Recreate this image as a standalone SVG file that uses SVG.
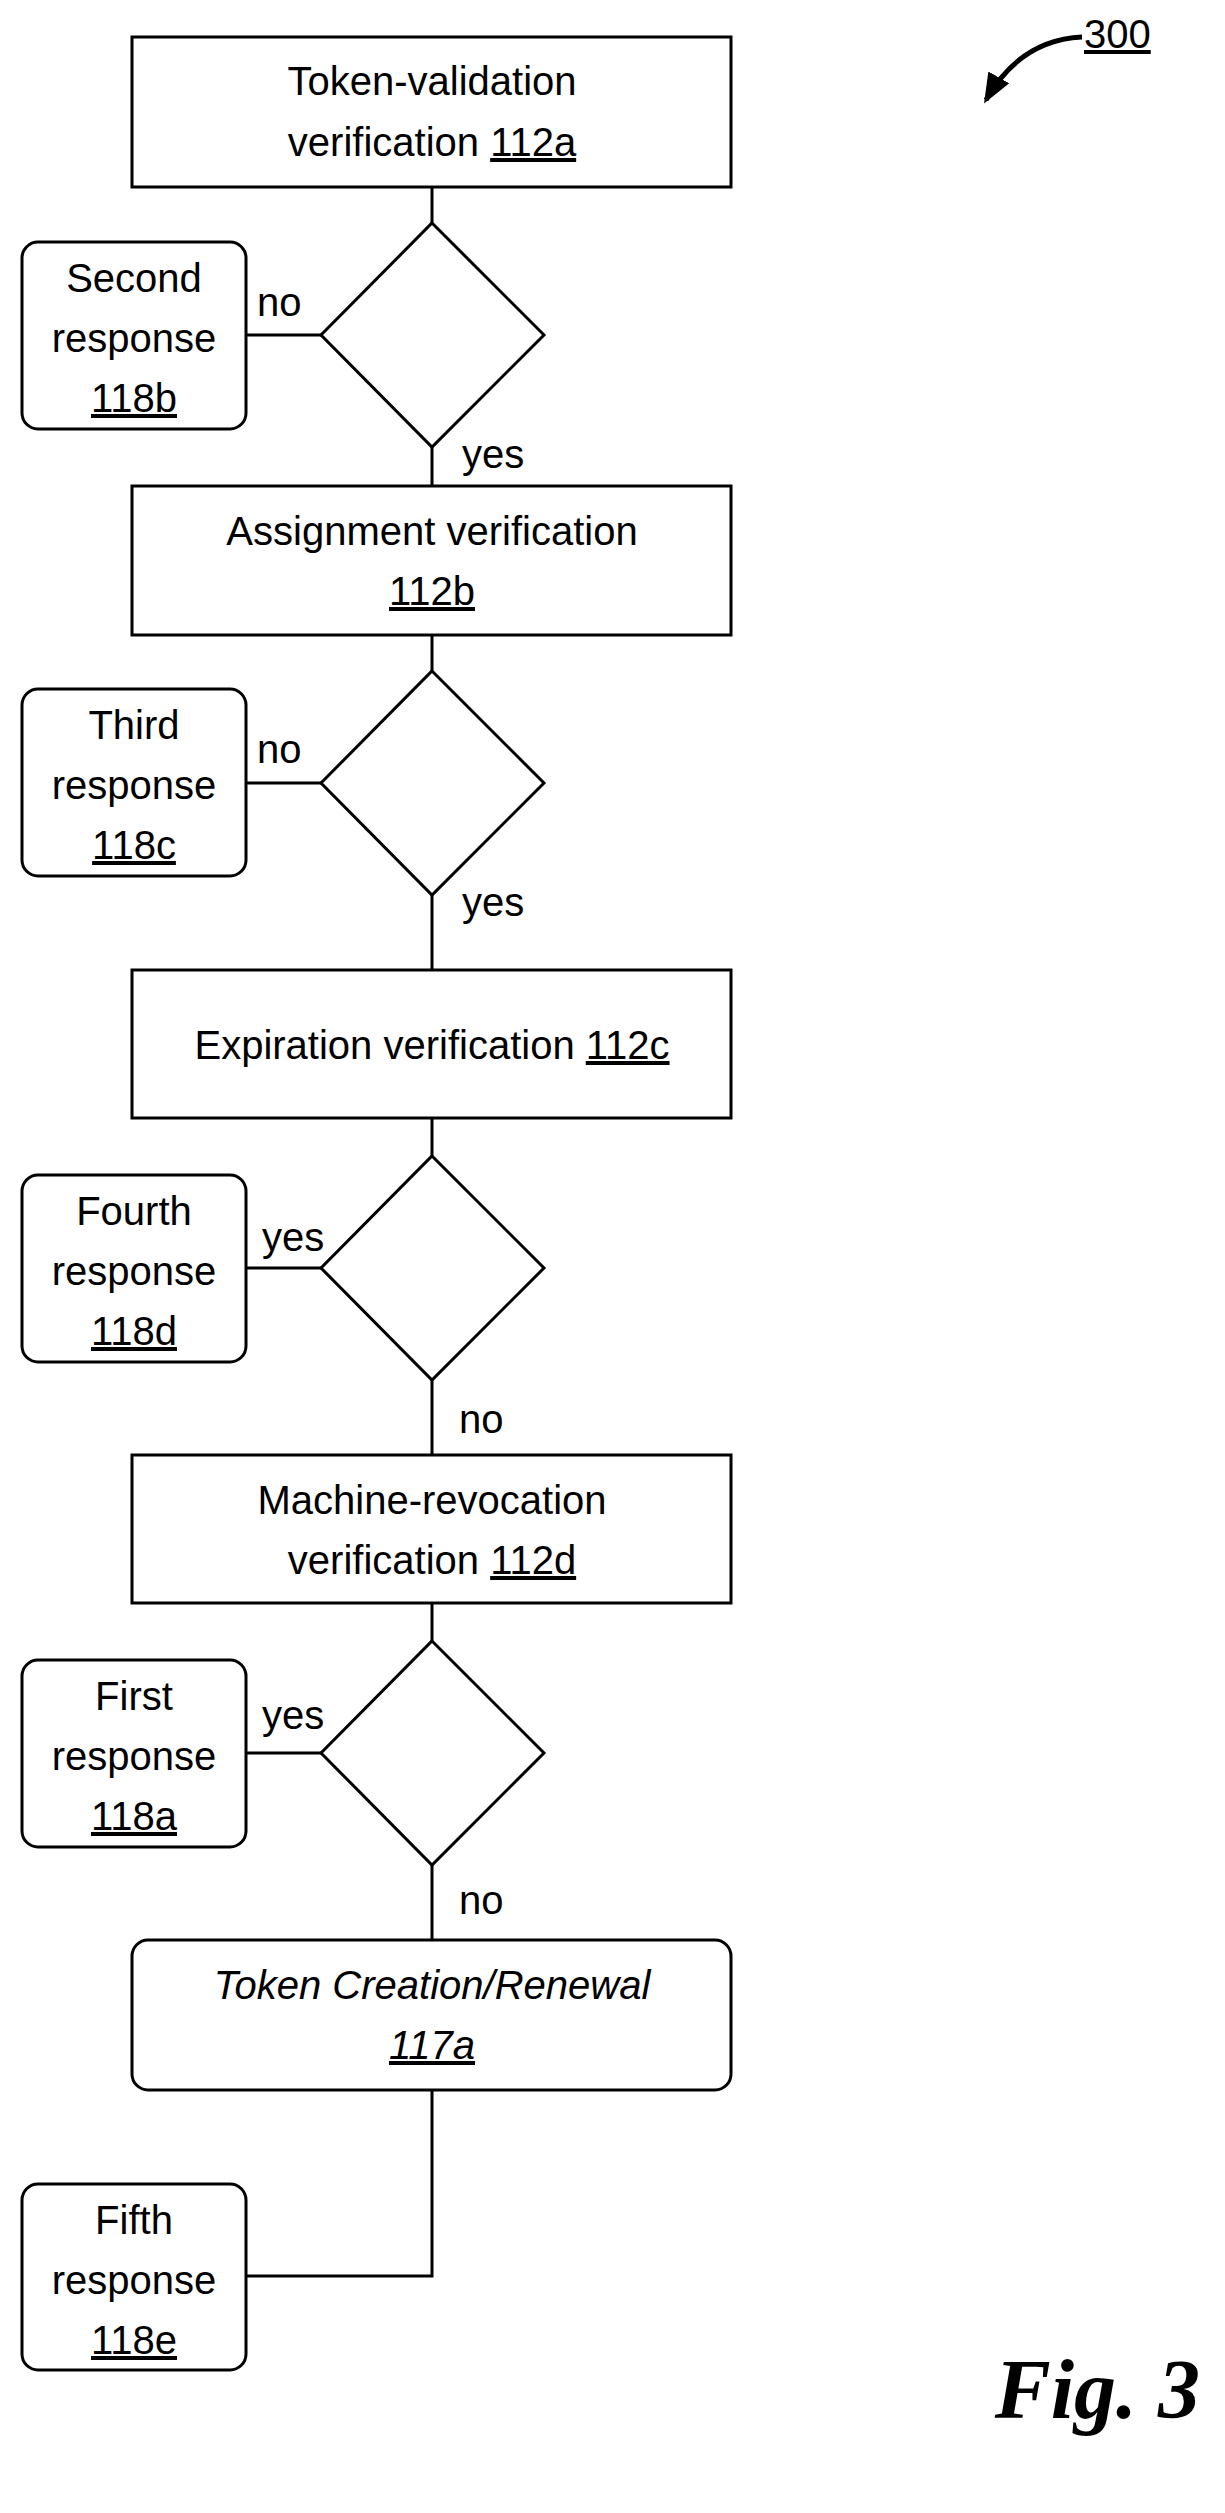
<svg xmlns="http://www.w3.org/2000/svg" width="1225" height="2513" viewBox="0 0 1225 2513">
<style>
.b{fill:#fff;stroke:#000;stroke-width:3}
.t{font-family:"Liberation Sans",Arial,sans-serif;font-size:40px;text-anchor:middle;fill:#000}
.l{font-family:"Liberation Sans",Arial,sans-serif;font-size:40px;fill:#000}
.c{fill:none;stroke:#000;stroke-width:3}
</style>
<defs><marker id="ah" markerWidth="30" markerHeight="30" refX="26" refY="12" orient="auto" markerUnits="userSpaceOnUse" viewBox="0 0 30 24"><path d="M0,0 L30,12 L0,24 z"/></marker></defs>
<rect width="1225" height="2513" fill="#fff"/>
<g id="connectors">
<path class="c" d="M432,187 V223 M432,447 V486 M432,635 V671 M432,895 V970 M432,1118 V1156 M432,1380 V1455 M432,1603 V1641 M432,1865 V1940 M432,2090 V2276 H246"/>
<path class="c" d="M246,335 H321 M246,783 H321 M246,1268 H321 M246,1753 H321"/>
<text class="l" x="257" y="316">no</text>
<text class="l" x="462" y="468">yes</text>
<text class="l" x="257" y="763">no</text>
<text class="l" x="462" y="916">yes</text>
<text class="l" x="262" y="1251">yes</text>
<text class="l" x="459" y="1433">no</text>
<text class="l" x="262" y="1729">yes</text>
<text class="l" x="459" y="1914">no</text>
</g>
<g id="n112a"><rect class="b" x="132" y="37" width="599" height="150"/><text class="t" x="432" y="95">Token-validation</text><text class="t" x="432" y="156">verification <tspan text-decoration="underline">112a</tspan></text></g>
<g id="d1"><polygon class="b" points="432,223 544,335 432,447 321,335"/></g>
<g id="n118b"><rect class="b" x="22" y="242" width="224" height="187" rx="16"/><text class="t" x="134" y="292">Second</text><text class="t" x="134" y="352">response</text><text class="t" x="134" y="412" text-decoration="underline">118b</text></g>
<g id="n112b"><rect class="b" x="132" y="486" width="599" height="149"/><text class="t" x="432" y="545">Assignment verification</text><text class="t" x="432" y="605" text-decoration="underline">112b</text></g>
<g id="d2"><polygon class="b" points="432,671 544,783 432,895 321,783"/></g>
<g id="n118c"><rect class="b" x="22" y="689" width="224" height="187" rx="16"/><text class="t" x="134" y="739">Third</text><text class="t" x="134" y="799">response</text><text class="t" x="134" y="859" text-decoration="underline">118c</text></g>
<g id="n112c"><rect class="b" x="132" y="970" width="599" height="148"/><text class="t" x="432" y="1059">Expiration verification <tspan text-decoration="underline">112c</tspan></text></g>
<g id="d3"><polygon class="b" points="432,1156 544,1268 432,1380 321,1268"/></g>
<g id="n118d"><rect class="b" x="22" y="1175" width="224" height="187" rx="16"/><text class="t" x="134" y="1225">Fourth</text><text class="t" x="134" y="1285">response</text><text class="t" x="134" y="1345" text-decoration="underline">118d</text></g>
<g id="n112d"><rect class="b" x="132" y="1455" width="599" height="148"/><text class="t" x="432" y="1514">Machine-revocation</text><text class="t" x="432" y="1574">verification <tspan text-decoration="underline">112d</tspan></text></g>
<g id="d4"><polygon class="b" points="432,1641 544,1753 432,1865 321,1753"/></g>
<g id="n118a"><rect class="b" x="22" y="1660" width="224" height="187" rx="16"/><text class="t" x="134" y="1710">First</text><text class="t" x="134" y="1770">response</text><text class="t" x="134" y="1830" text-decoration="underline">118a</text></g>
<g id="n117a"><rect class="b" x="132" y="1940" width="599" height="150" rx="16"/><text class="t" x="432" y="1999" font-style="italic">Token Creation/Renewal</text><text class="t" x="432" y="2059" font-style="italic" text-decoration="underline">117a</text></g>
<g id="n118e"><rect class="b" x="22" y="2184" width="224" height="186" rx="16"/><text class="t" x="134" y="2234">Fifth</text><text class="t" x="134" y="2294">response</text><text class="t" x="134" y="2354" text-decoration="underline">118e</text></g>
<g id="label300"><path fill="none" stroke="#000" stroke-width="5" d="M1082,37 Q1020,40 986,100" marker-end="url(#ah)"/><text class="l" x="1084" y="48" text-decoration="underline">300</text></g>
<text x="1200" y="2418" text-anchor="end" font-family="Liberation Serif,serif" font-style="italic" font-weight="bold" font-size="84">Fig. 3</text>
</svg>
